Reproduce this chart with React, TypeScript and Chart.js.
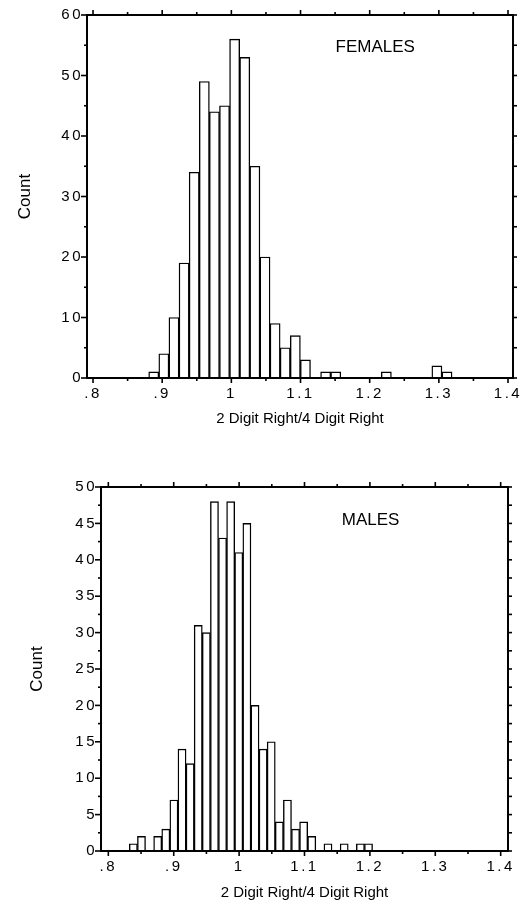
import React, { useEffect, useRef } from 'react';
import { Chart, registerables } from 'chart.js';

Chart.register(...registerables);

// ---- data ----
const FEMALE_COUNTS = [1, 4, 10, 19, 34, 49, 44, 45, 56, 53, 35, 20, 9, 5, 7, 3, 0, 1, 1, 0, 0, 0, 0, 1, 0, 0, 0, 0, 2, 1];
const MALE_COUNTS = [1, 2, 0, 2, 3, 7, 14, 12, 31, 30, 48, 43, 48, 41, 45, 20, 14, 15, 4, 7, 3, 4, 2, 0, 1, 0, 1, 0, 1, 1];
const FEMALE_BIN_START = 0.8805;
const FEMALE_BIN_WIDTH = 0.01462;
const MALE_BIN_START = 0.8321;
const MALE_BIN_WIDTH = 0.0124;
const X_TICK_VALUES = [0.8, 0.9, 1.0, 1.1, 1.2, 1.3, 1.4];
const X_TICK_LABELS = ['.8', '.9', '1', '1.1', '1.2', '1.3', '1.4'];
const X_AXIS_TITLE = '2 Digit Right/4 Digit Right';
const Y_AXIS_TITLE = 'Count';
const FEMALE_LABEL = 'FEMALES';
const MALE_LABEL = 'MALES';

const W = 526;
const FONT = '"Liberation Sans", Arial, Helvetica, sans-serif';
const INK = '#000';

type Panel = {
  counts: number[];
  binStart: number;
  binWidth: number;
  label: string;
  labelX: number;
  labelY: number;
  xMin: number;
  xMax: number;
  yMax: number;
  yStep: number;
  yLabelEvery: number;
  height: number;
  plotLeft: number;
  plotRight: number;
  plotTop: number;
  plotBottom: number;
  countPad: number;
  xTitlePad: number;
};

const PANELS: Panel[] = [
  {
    counts: FEMALE_COUNTS, binStart: FEMALE_BIN_START, binWidth: FEMALE_BIN_WIDTH,
    label: FEMALE_LABEL, labelX: 1.208, labelY: 54.6,
    xMin: 0.7913, xMax: 1.4072, yMax: 60, yStep: 5, yLabelEvery: 10,
    height: 440, plotLeft: 87, plotRight: 513, plotTop: 15, plotBottom: 378,
    countPad: 15, xTitlePad: 12,
  },
  {
    counts: MALE_COUNTS, binStart: MALE_BIN_START, binWidth: MALE_BIN_WIDTH,
    label: MALE_LABEL, labelX: 1.201, labelY: 45.4,
    xMin: 0.7888, xMax: 1.4112, yMax: 50, yStep: 2.5, yLabelEvery: 5,
    height: 473, plotLeft: 101, plotRight: 508, plotTop: 47, plotBottom: 411,
    countPad: 27, xTitlePad: 11,
  },
];

function xLabel(v: number): string {
  const i = X_TICK_VALUES.findIndex((t) => Math.abs(t - v) < 1e-6);
  return i >= 0 ? X_TICK_LABELS[i] : '';
}

function isMultiple(v: number, step: number) {
  const r = v / step;
  return Math.abs(r - Math.round(r)) < 1e-6;
}

const framePlugin = {
  id: 'frameTicks',
  beforeDraw(chart: any) {
    (chart.ctx as any).letterSpacing = '0px';
  },
  afterDatasetsDraw(chart: any) {
    (chart.ctx as any).letterSpacing = '2.5px';
  },
  afterDraw(chart: any, _args: any, opts: any) {
    const ctx = chart.ctx as any;
    ctx.letterSpacing = '0px';
    const a = chart.chartArea;
    const xs = chart.scales.x;
    const ys = chart.scales.y;
    ctx.save();
    ctx.strokeStyle = INK;
    ctx.lineWidth = 2;
    ctx.strokeRect(a.left, a.top, a.right - a.left, a.bottom - a.top);
    ctx.lineWidth = 1.6;
    const line = (x1: number, y1: number, x2: number, y2: number) => {
      ctx.beginPath();
      ctx.moveTo(x1, y1);
      ctx.lineTo(x2, y2);
      ctx.stroke();
    };
    xs.ticks.forEach((t: any) => {
      const px = xs.getPixelForValue(t.value);
      const major = xLabel(t.value) !== '';
      const len = major ? 5 : 3;
      line(px, a.bottom, px, a.bottom + len);
      line(px, a.top, px, a.top - len);
    });
    ys.ticks.forEach((t: any) => {
      const py = ys.getPixelForValue(t.value);
      const major = isMultiple(t.value, opts.yLabelEvery);
      const len = major ? 6 : 3;
      line(a.left - len, py, a.left, py);
      line(a.right, py, a.right + 4, py);
    });
    ctx.fillStyle = INK;
    ctx.font = `17px ${FONT}`;
    ctx.textAlign = 'center';
    ctx.textBaseline = 'middle';
    ctx.fillText(opts.label, xs.getPixelForValue(opts.labelX), ys.getPixelForValue(opts.labelY));
    ctx.restore();
  },
};

function makeChart(canvas: HTMLCanvasElement, p: Panel) {
  const data = p.counts.map((c, i) => ({ x: p.binStart + p.binWidth * (i + 0.5), y: c }));
  return new Chart(canvas, {
    type: 'bar',
    data: {
      datasets: [
        {
          data,
          backgroundColor: '#fff',
          borderColor: INK,
          borderWidth: 1.4,
          barPercentage: 1,
          categoryPercentage: 1,
          borderSkipped: 'start',
        } as any,
      ],
    },
    options: {
      animation: false,
      responsive: false,
      maintainAspectRatio: false,
      devicePixelRatio: 1,
      layout: { padding: { left: 0, top: p.plotTop, right: W - p.plotRight, bottom: 0 } },
      plugins: {
        legend: { display: false },
        tooltip: { enabled: false },
        frameTicks: { label: p.label, labelX: p.labelX, labelY: p.labelY, yLabelEvery: p.yLabelEvery },
      } as any,
      scales: {
        x: {
          type: 'linear',
          position: 'bottom',
          min: p.xMin,
          max: p.xMax,
          offset: false,
          grid: { display: false, drawTicks: false },
          border: { display: false },
          ticks: {
            stepSize: 0.05,
            autoSkip: false,
            includeBounds: false,
            maxRotation: 0,
            minRotation: 0,
            padding: 7,
            color: INK,
            font: { family: FONT, size: 15 },
            z: 1,
            callback: (v: any) => xLabel(Number(v)),
          },
          title: {
            display: true,
            text: X_AXIS_TITLE,
            color: INK,
            font: { family: FONT, size: 15 },
            padding: { top: 0, bottom: p.xTitlePad },
          },
          afterFit: (s: any) => {
            s.height = p.height - p.plotBottom;
          },
        } as any,
        y: {
          type: 'linear',
          position: 'left',
          min: 0,
          max: p.yMax,
          grid: { display: false, drawTicks: false },
          border: { display: false },
          ticks: {
            stepSize: p.yStep,
            autoSkip: false,
            includeBounds: false,
            padding: 4,
            color: INK,
            font: { family: FONT, size: 15 },
            z: 1,
            callback: (v: any) => (isMultiple(Number(v), p.yLabelEvery) ? String(Math.round(Number(v))) : ''),
          },
          title: {
            display: true,
            text: Y_AXIS_TITLE,
            color: INK,
            font: { family: FONT, size: 17 },
            padding: { top: p.countPad, bottom: 0 },
          },
          afterFit: (s: any) => {
            s.width = p.plotLeft;
          },
        } as any,
      },
    },
    plugins: [framePlugin as any],
  });
}

function HistPanel({ panel, top }: { panel: Panel; top: number }) {
  const ref = useRef<HTMLCanvasElement | null>(null);
  useEffect(() => {
    if (!ref.current) return;
    const chart = makeChart(ref.current, panel);
    return () => chart.destroy();
  }, [panel]);
  return (
    <canvas
      ref={ref}
      width={W}
      height={panel.height}
      style={{ position: 'absolute', left: 0, top, width: W, height: panel.height, display: 'block' }}
    />
  );
}

export default function App() {
  return (
    <div style={{ position: 'absolute', left: 0, top: 0, width: W, height: 913, background: '#fff', overflow: 'hidden' }}>
      <HistPanel panel={PANELS[0]} top={0} />
      <HistPanel panel={PANELS[1]} top={440} />
    </div>
  );
}
